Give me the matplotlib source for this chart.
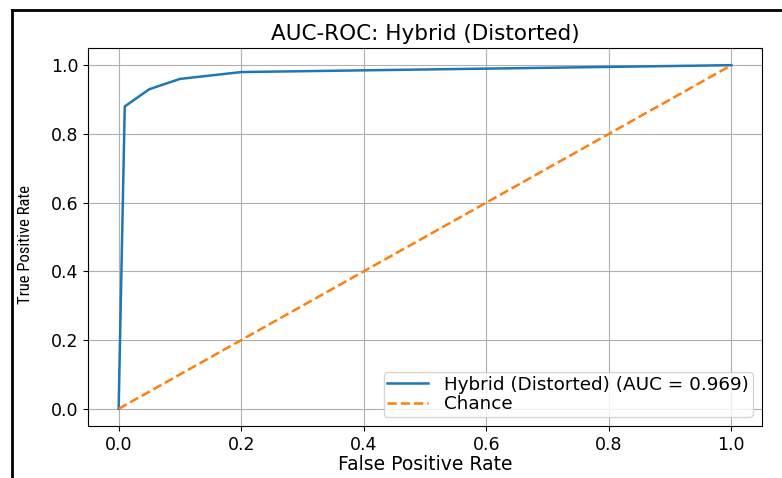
import matplotlib
matplotlib.use("Agg")
import matplotlib.pyplot as plt
from matplotlib.lines import Line2D

fpr = [0.0, 0.01, 0.05, 0.1, 0.2, 1.0]
tpr = [0.0, 0.88, 0.93, 0.96, 0.98, 1.0]
chance = [0.0, 1.0]
auc_label = 'Hybrid (Distorted) (AUC = 0.969)'

fig = plt.figure(figsize=(7.82, 4.78), dpi=100)
ax = fig.add_axes([88 / 782, 1 - 426 / 478, (762 - 88) / 782, (426 - 48) / 478])

ax.plot(fpr, tpr, color='#1f77b4', lw=1.8, label=auc_label)
ax.plot(chance, chance, '--', color='#ff7f0e', lw=1.8, label='Chance')
ax.set_xlim(-0.05, 1.05)
ax.set_ylim(-0.05, 1.05)
ax.set_title('AUC-ROC: Hybrid (Distorted)', fontsize=15.5, pad=6)
ax.set_xlabel('False Positive Rate', fontsize=13.5, labelpad=1)
ax.set_ylabel('True Positive Rate', fontsize=12,
              family=['Liberation Sans Narrow', 'Roboto Condensed', 'Liberation Sans'])
ax.yaxis.set_label_coords(-0.082, 0.48)
ax.tick_params(labelsize=12.5)
ax.grid(True)
ax.legend(loc='lower right', fontsize=13.2, handlelength=2.2,
          labelspacing=0.08, borderpad=0.2, handletextpad=0.9)

# screenshot border on left and top
fig.add_artist(Line2D([12 / 782, 12 / 782], [0, 1 - 10 / 478], color='black', lw=2))
fig.add_artist(Line2D([12 / 782, 1], [1 - 10 / 478, 1 - 10 / 478], color='black', lw=2))

fig.savefig('out.png', dpi=100)
